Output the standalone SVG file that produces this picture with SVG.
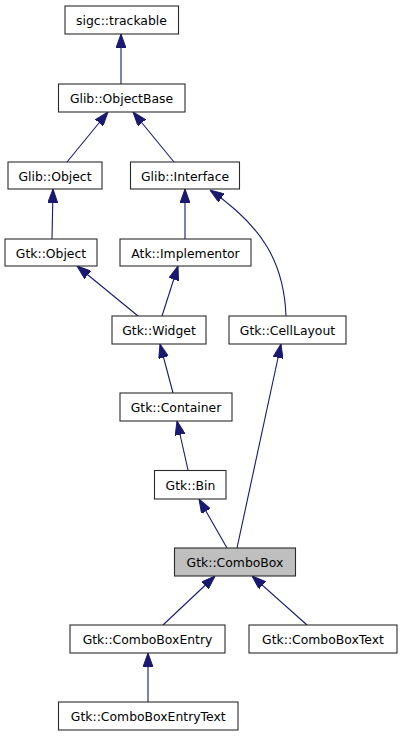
<svg xmlns="http://www.w3.org/2000/svg" width="401" height="736" viewBox="0 0 401 736">
<style>
.n rect{fill:#fff;stroke:#2a2a2a;stroke-width:1.1}
.n.cur rect{fill:#bfbfbf}
.n text{font-family:"DejaVu Sans",sans-serif;font-size:12.4px;fill:#000;text-anchor:middle}
.e path{fill:none;stroke:#191970;stroke-width:1.1;marker-end:url(#ah)}
</style>
<defs>
<marker id="ah" markerUnits="userSpaceOnUse" viewBox="0 0 14 10" refX="14" refY="5" markerWidth="14" markerHeight="10" orient="auto">
<path d="M0,0 L14,5 L0,10 z" fill="#191970" stroke="#191970" stroke-width="1"/>
</marker>
</defs>
<rect width="401" height="736" fill="#fff"/>
<g id="edges" class="e">
<path d="M121,84 L121,34"/>
<path d="M67,162 L108,112"/>
<path d="M174,162 L133,112"/>
<path d="M52,239 L53,189"/>
<path d="M185,239 L185,189"/>
<path d="M286,316 C284,262 262,226 210,190"/>
<path d="M138,316 L77,266"/>
<path d="M162,316 L178,266"/>
<path d="M173,393 L160,344"/>
<path d="M188,470 L177,421"/>
<path d="M227,548 L199,499"/>
<path d="M237,548 L281,344"/>
<path d="M163,625 L215,576"/>
<path d="M307,625 L252,576"/>
<path d="M148,702 L148,653"/>
</g>
<g id="sigc_trackable" class="n"><rect x="65" y="6" width="113.5" height="28"/><text x="121.5" y="25">sigc::trackable</text></g>
<g id="Glib_ObjectBase" class="n"><rect x="58.5" y="84" width="126.5" height="28"/><text x="121.5" y="103">Glib::ObjectBase</text></g>
<g id="Glib_Object" class="n"><rect x="8" y="162" width="94" height="27"/><text x="55" y="180.5">Glib::Object</text></g>
<g id="Glib_Interface" class="n"><rect x="130.5" y="162" width="109" height="27"/><text x="185" y="180.5">Glib::Interface</text></g>
<g id="Gtk_Object" class="n"><rect x="5" y="239" width="92" height="27"/><text x="51" y="257.5">Gtk::Object</text></g>
<g id="Atk_Implementor" class="n"><rect x="120" y="239" width="131" height="27"/><text x="185.5" y="257.5">Atk::Implementor</text></g>
<g id="Gtk_Widget" class="n"><rect x="112" y="316" width="94" height="28"/><text x="159" y="335">Gtk::Widget</text></g>
<g id="Gtk_CellLayout" class="n"><rect x="229" y="316" width="117" height="28"/><text x="287.5" y="335">Gtk::CellLayout</text></g>
<g id="Gtk_Container" class="n"><rect x="120" y="393" width="112" height="28"/><text x="176" y="412">Gtk::Container</text></g>
<g id="Gtk_Bin" class="n"><rect x="154.5" y="470.5" width="71.5" height="28.5"/><text x="190.5" y="489.5">Gtk::Bin</text></g>
<g id="Gtk_ComboBox" class="n cur"><rect x="174.5" y="548" width="121" height="28"/><text x="235" y="567">Gtk::ComboBox</text></g>
<g id="Gtk_ComboBoxEntry" class="n"><rect x="70" y="625" width="155" height="28"/><text x="147.5" y="644">Gtk::ComboBoxEntry</text></g>
<g id="Gtk_ComboBoxText" class="n"><rect x="249" y="625" width="148" height="28"/><text x="323" y="644">Gtk::ComboBoxText</text></g>
<g id="Gtk_ComboBoxEntryText" class="n"><rect x="58.5" y="702" width="179.5" height="28"/><text x="148.25" y="721">Gtk::ComboBoxEntryText</text></g>
</svg>
